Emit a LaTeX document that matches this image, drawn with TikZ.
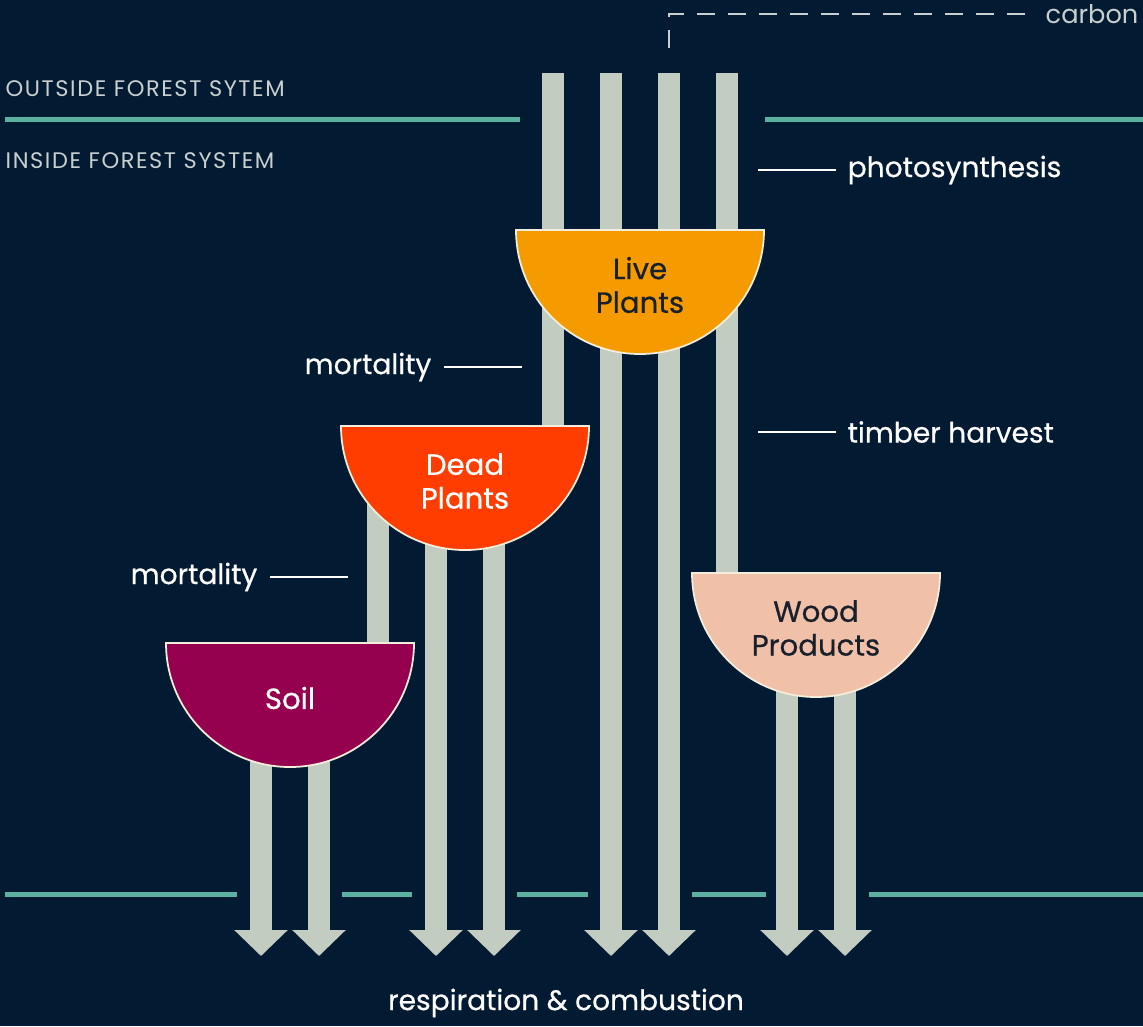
\documentclass[tikz,border=0pt]{standalone}
\usepackage{fontspec}
\setmainfont{Poppins}
\newfontfamily\labelfont{Poppins}[FakeBold=0.6]
\usetikzlibrary{arrows.meta, positioning, calc, backgrounds}
\definecolor{cnavy}{HTML}{021A32}
\definecolor{cteal}{HTML}{5BB1A1}
\definecolor{cbar}{HTML}{C2CCC1}
\definecolor{cmist}{HTML}{C8CFCF}
\definecolor{crim}{HTML}{F3EEDC}
\definecolor{clive}{HTML}{F59B00}
\definecolor{cdead}{HTML}{FF3D00}
\definecolor{csoil}{HTML}{95004F}
\definecolor{cwood}{HTML}{F1C0A8}
\definecolor{cink}{HTML}{18202C}

\begin{document}
\begin{tikzpicture}[
  x=0.1mm, y=0.1mm,
  font=\labelfont\fontsize{8}{9.4}\selectfont,
  % a carbon pool is a half-disc hanging from its flat rim
  pool/.style     = {draw=crim, line width=0.5pt},
  pooltext/.style = {font=\labelfont\fontsize{8.3}{9.6}\selectfont,
                     align=center, inner sep=0pt},
  feed/.style     = {draw=cbar, line width=2.2mm},
  flow/.style     = {feed, -{Triangle[length=2.6mm, width=5.2mm]}},
  border/.style   = {draw=cteal, line width=0.5mm},
  leader/.style   = {draw=white, line width=0.55pt},
  dashline/.style = {draw=cmist, line width=0.45pt, dash pattern=on 1.8mm off 1.3mm},
  lbl/.style      = {text=white, inner sep=0pt},
  zone/.style     = {font=\rmfamily\addfontfeatures{LetterSpace=7}%
                     \fontsize{6.4}{7}\selectfont, text=cmist, inner sep=0pt},
]

% Pool: #1 name, #2 centre of the rim, #3 fill, #4 text colour, #5 label.
% Columns <name>-ll, -l, -r, -rr sit on the rim, 58 apart, for the flows.
\newcommand{\pool}[5]{%
  \coordinate (#1) at #2;
  \coordinate (#1-ll) at ($(#1)+(-87,0)$);
  \coordinate (#1-l)  at ($(#1)+(-29,0)$);
  \coordinate (#1-r)  at ($(#1)+(29,0)$);
  \coordinate (#1-rr) at ($(#1)+(87,0)$);
  \filldraw[pool, fill=#3] ($(#1)+(-124,0)$)
      arc[start angle=180, end angle=360, radius=124] -- cycle;
  \node[pooltext, text=#4] (#1t) at ($(#1)+(0,-55)$) {#5};
}

\begin{scope}[on background layer]
  \fill[cnavy] (0,0) rectangle (1143,-1026);
\end{scope}
\useasboundingbox (0,0) rectangle (1143,-1026);

% ============================================================ pools =====
\pool{live}{(640,-230)}{clive}{cink}{Live\\Plants}
\pool{dead}{(465,-426)}{cdead}{white}{Dead\\Plants}
\pool{soil}{(290,-643)}{csoil}{white}{Soil}
\pool{wood}{(816,-573)}{cwood}{cink}{Wood\\Products}

\coordinate (sky)    at (0,-73);
\coordinate (ground) at (0,-956);

% ============================================================ flows =====
\begin{scope}[on background layer]
  % photosynthesis feeds the live plants; two columns leave the system
  \foreach \s in {l,r}
    \draw[flow] (live-\s |- sky) -- (live-\s |- ground);
  \draw[feed] (live-ll |- sky) -- (live-ll |- dead);
  \draw[feed] (live-rr |- sky) -- (live-rr |- wood);
  \draw[feed] (dead-ll) -- (dead-ll |- soil);
  \foreach \p in {dead,soil,wood}
    \foreach \s in {l,r}
      \draw[flow] (\p-\s) -- (\p-\s |- ground);
\end{scope}

% ====================================================== system edges ===
\draw[border] (5,-119) -- (520,-119);
\draw[border] (765,-119) -- (1143,-119);
\foreach \a/\b in {5/237, 342/412, 517/588, 692/766, 869/1143}
  \draw[border] (\a,-894) -- (\b,-894);

\node[zone, anchor=west] (outside) at (5,-89) {OUTSIDE FOREST SYTEM};
\node[zone, anchor=west] (inside)  at (5,-161) {INSIDE FOREST SYSTEM};

% ============================================================ labels ====
\node[lbl, text=cmist, anchor=west, font=\rmfamily\fontsize{7.3}{9}\selectfont]
     (carbon) at (1045,-14) {carbon};
\draw[dashline] ([xshift=-2mm]carbon.west) -| ($(live-r |- sky)+(0,21)$);

\node[lbl, anchor=west] (photo) at (847,-170) {photosynthesis};
\draw[leader] ([xshift=-1.1mm]photo.west) -- ++(-7.8mm,0);

\node[lbl, anchor=west] (harvest) at (847,-432) {timber harvest};
\draw[leader] ([xshift=-1.1mm]harvest.west) -- ++(-7.8mm,0);

\node[lbl, anchor=east] (mort1) at (432,-367) {mortality};
\draw[leader] ([xshift=1.2mm]mort1.east) -- ++(7.8mm,0);

\node[lbl, anchor=east] (mort2) at (258,-577) {mortality};
\draw[leader] ([xshift=1.2mm]mort2.east) -- ++(7.8mm,0);

\node[lbl] (resp) at (566,-1003) {respiration \& combustion};

\end{tikzpicture}
\end{document}
